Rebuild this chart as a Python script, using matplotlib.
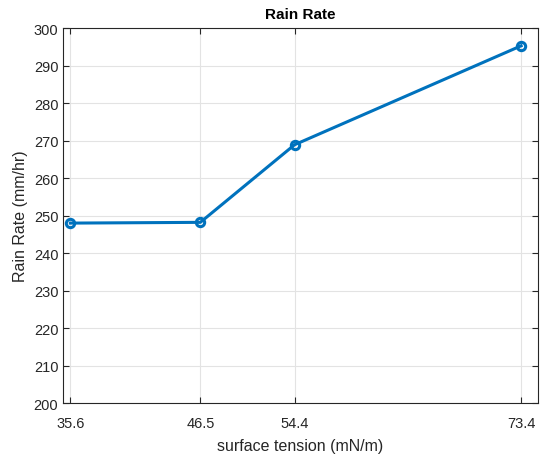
import matplotlib
matplotlib.use("Agg")
import matplotlib.pyplot as plt

plt.rcParams["font.family"] = ["Liberation Sans", "DejaVu Sans"]

# surface tension vs. rain rate
tension = [35.6, 46.5, 54.4, 73.4]
rain_rate = [248.0, 248.2, 268.9, 295.3]
tick_labels = ["35.6", "46.5", "54.4", "73.4"]

fig = plt.figure(figsize=(5.4, 4.56), dpi=100)
ax = fig.add_axes([0.117, 0.114, 0.879, 0.822])

ax.plot(tension, rain_rate, color="#0072BD", linewidth=2.2, marker="o",
        markersize=6, markerfacecolor="none", markeredgewidth=2.2)

ax.set_xlim(35.0, 74.8)
ax.set_ylim(200, 300)
ax.set_xticks(tension)
ax.set_xticklabels(tick_labels)
ax.set_yticks(range(200, 301, 10))

ax.grid(True, color="#e3e3e3", linewidth=0.8)
ax.set_axisbelow(True)
for side in ax.spines.values():
    side.set_color("#262626")
    side.set_linewidth(0.8)
ax.tick_params(direction="in", length=4, top=True, right=True,
               colors="#262626", labelsize=10.5, width=0.8)
ax.tick_params(axis="x", pad=9)

ax.set_xlabel("surface tension (mN/m)", fontsize=11.5, color="#262626", labelpad=6)
ax.set_ylabel("Rain Rate (mm/hr)", fontsize=11.5, color="#262626")
ax.set_title("Rain Rate", fontsize=11, fontweight="bold", pad=7)

fig.savefig("out.png", dpi=100)
